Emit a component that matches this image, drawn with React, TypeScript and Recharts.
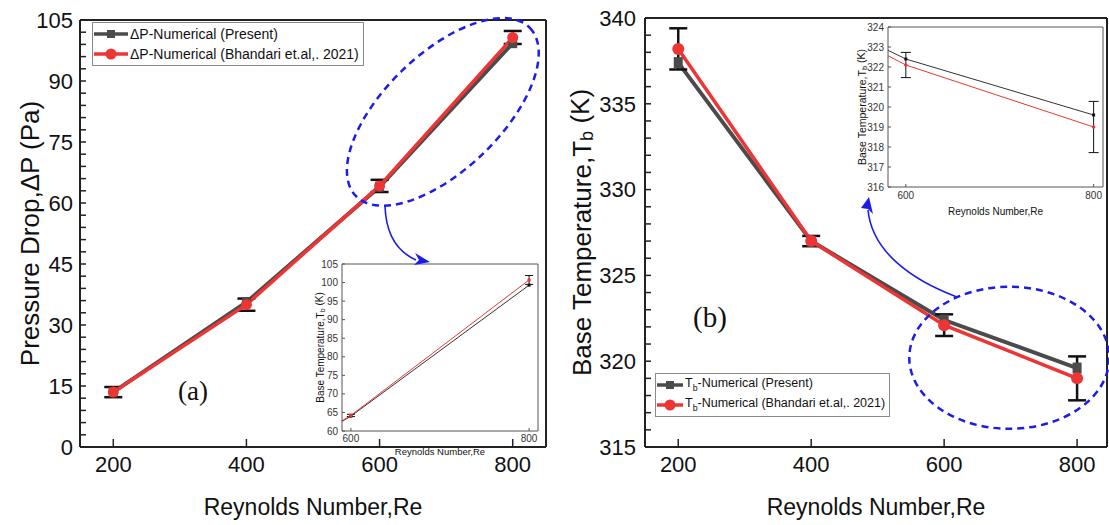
import React from 'react'
import {
  ComposedChart,
  Line,
  XAxis,
  YAxis,
  ErrorBar,
  ReferenceLine,
  ReferenceDot,
  Legend,
  CartesianGrid,
} from 'recharts'

const FONT = '"Liberation Sans", Arial, Helvetica, sans-serif'
const SERIF = '"Liberation Serif", "Times New Roman", serif'
const GRAY = '#4b4b4b'
const RED = '#ee3535'
const BLUE = '#1c1ce8'
const INK = '#111'

// Reynolds numbers
const reynolds = [200, 400, 600, 800]
const reTicks = [200, 400, 600, 800]
const insetReTicks = [600, 800]

// (a) pressure drop, Pa
const dpPresent = [13.5, 35.6, 64.0, 99.3]
const dpBhandari = [13.5, 35.0, 64.2, 100.7]
const dpError = [1.25, 1.5, 1.5, 1.6]
const dpInsetError = [0, 0, 0.3, 1.2]
const dpTicks = [0, 15, 30, 45, 60, 75, 90, 105]
const dpMinorTicks = [3, 6, 9, 12, 18, 21, 24, 27, 33, 36, 39, 42, 48, 51, 54, 57, 63, 66, 69, 72, 78, 81, 84, 87, 93, 96, 99, 102]
const dpInsetTicks = [60, 65, 70, 75, 80, 85, 90, 95, 100, 105]

// (b) base temperature, K
const tbPresent = [337.4, 327.0, 322.4, 319.6]
const tbBhandari = [338.2, 327.0, 322.1, 319.0]
const tbError = [1.2, 0.3, 0.63, 1.28]
const tbTicks = [315, 320, 325, 330, 335, 340]
const tbMinorTicks = [316, 317, 318, 319, 321, 322, 323, 324, 326, 327, 328, 329, 331, 332, 333, 334, 336, 337, 338, 339]
const tbInsetTicks = [316, 317, 318, 319, 320, 321, 322, 323, 324]

const dpData = reynolds.map((re, i) => ({
  re,
  present: dpPresent[i],
  bhandari: dpBhandari[i],
  err: dpError[i],
  insetErr: dpInsetError[i],
}))

const tbData = reynolds.map((re, i) => ({
  re,
  present: tbPresent[i],
  bhandari: tbBhandari[i],
  err: tbError[i],
}))

function squareDot(w: number, h: number, color: string) {
  return (p: any) => {
    if (p.cx == null || p.cy == null) return <g key={`sq-${p.index}`} />
    return <rect key={`sq-${p.index}`} x={p.cx - w / 2} y={p.cy - h / 2} width={w} height={h} fill={color} />
  }
}

function majorTick(majors: number[], fontSize: number, fill = INK) {
  return (p: any) => {
    const v = p.payload.value
    if (!majors.includes(v)) return <g />
    return (
      <text x={p.x} y={p.y} dy="0.355em" textAnchor="end" fontSize={fontSize} fontFamily={FONT} fill={fill}>
        {v}
      </text>
    )
  }
}

function YTitle({ viewBox, dx, fontSize, children }: any) {
  const cx = viewBox.x + dx
  const cy = viewBox.y + viewBox.height / 2
  return (
    <text
      x={cx}
      y={cy}
      transform={`rotate(-90 ${cx} ${cy})`}
      textAnchor="middle"
      dominantBaseline="central"
      fontSize={fontSize}
      fontFamily={FONT}
      fill={INK}
    >
      {children}
    </text>
  )
}

function XTitle({ viewBox, dy, fontSize, children }: any) {
  return (
    <text
      x={viewBox.x + viewBox.width / 2}
      y={viewBox.y + dy}
      textAnchor="middle"
      fontSize={fontSize}
      fontFamily={FONT}
      fill={INK}
    >
      {children}
    </text>
  )
}

const TbText = ({ tail }: { tail: string }) => (
  <>
    <tspan>T</tspan>
    <tspan fontSize="70%" dy="0.3em">b</tspan>
    <tspan dy="-0.3em">{tail}</tspan>
  </>
)

function LegendBox({ rows, fontSize, rowHeight, iconWidth }: any) {
  return (
    <div
      style={{
        border: '1px solid #8a8a8a',
        background: '#fff',
        padding: '1px 4px 1px 1px',
        fontFamily: FONT,
        fontSize,
        color: INK,
        lineHeight: 1,
      }}
    >
      {rows.map((r: any) => (
        <div key={r.key} style={{ display: 'flex', alignItems: 'center', height: rowHeight, whiteSpace: 'nowrap' }}>
          <svg width={iconWidth} height={12} style={{ marginRight: 2, flex: 'none' }}>
            <line x1={0} y1={6} x2={iconWidth} y2={6} stroke={r.color} strokeWidth={3.5} />
            {r.shape === 'square' ? (
              <rect x={iconWidth / 2 - 4} y={2} width={8} height={8} fill={r.color} />
            ) : (
              <circle cx={iconWidth / 2} cy={6} r={5.5} fill={r.color} />
            )}
          </svg>
          <span>{r.label}</span>
        </div>
      ))}
    </div>
  )
}

const ellipseShape = (rx: number, ry: number, angle: number) => (p: any) => (
  <ellipse
    cx={p.cx}
    cy={p.cy}
    rx={rx}
    ry={ry}
    transform={`rotate(${angle} ${p.cx} ${p.cy})`}
    fill="none"
    stroke={BLUE}
    strokeWidth={2.5}
    strokeDasharray="7 5"
  />
)

const axisLine = { stroke: '#222', strokeWidth: 2 }
const tickLine = { stroke: '#222', strokeWidth: 1.5 }

function PanelA() {
  return (
    <div style={{ position: 'absolute', left: 0, top: 0 }}>
      <ComposedChart width={560} height={525} data={dpData} margin={{ top: 20, right: 14, bottom: 0, left: 0 }}>
        <XAxis
          dataKey="re"
          type="number"
          domain={[150, 850]}
          ticks={reTicks}
          interval={0}
          height={78}
          axisLine={axisLine}
          tickLine={tickLine}
          tickSize={-8}
          tickMargin={17}
          tick={{ fill: INK, fontSize: 22, fontFamily: FONT }}
          label={<XTitle dy={68} fontSize={23}>Reynolds Number,Re</XTitle>}
        />
        <YAxis
          type="number"
          domain={[0, 105]}
          ticks={[...dpTicks, ...dpMinorTicks].sort((a, b) => a - b)}
          interval={0}
          width={80}
          axisLine={axisLine}
          tickLine={tickLine}
          tickSize={-6}
          tickMargin={13}
          tick={majorTick(dpTicks, 22)}
          label={<YTitle dx={30} fontSize={26}>Pressure Drop,ΔP (Pa)</YTitle>}
        />
        <ReferenceLine y={105} stroke="#222" strokeWidth={2} />
        <ReferenceLine x={850} stroke="#222" strokeWidth={2} />
        <Line
          dataKey="present"
          stroke={GRAY}
          strokeWidth={4}
          dot={squareDot(9, 10, GRAY)}
          isAnimationActive={false}
        />
        <Line
          dataKey="bhandari"
          stroke={RED}
          strokeWidth={3.5}
          dot={{ r: 5.5, fill: RED, stroke: RED, strokeWidth: 0 }}
          isAnimationActive={false}
        >
          <ErrorBar dataKey="err" direction="y" width={9} stroke={INK} strokeWidth={2.5} />
        </Line>
        <ReferenceDot x={695} y={82.4} r={1} shape={ellipseShape(121, 58, -44)} />
        <Legend
          layout="horizontal"
          verticalAlign="middle"
          align="center"
          wrapperStyle={{ left: 92, top: 22, width: 'auto' }}
          content={() => (
            <LegendBox
              fontSize={14}
              rowHeight={20}
              iconWidth={34}
              rows={[
                { key: 'p', label: 'ΔP-Numerical (Present)', color: GRAY, shape: 'square' },
                { key: 'b', label: 'ΔP-Numerical (Bhandari et.al,. 2021)', color: RED, shape: 'circle' },
              ]}
            />
          )}
        />
      </ComposedChart>
    </div>
  )
}

function InsetA() {
  return (
    <div style={{ position: 'absolute', left: 300, top: 256 }}>
      <ComposedChart width={244} height={205} data={dpData} margin={{ top: 8, right: 6, bottom: 0, left: 0 }}>
        <CartesianGrid horizontal={false} vertical={false} fill="#fff" />
        <XAxis
          dataKey="re"
          type="number"
          domain={[590, 810]}
          allowDataOverflow
          ticks={insetReTicks}
          interval={0}
          height={30}
          axisLine={{ stroke: '#555', strokeWidth: 1 }}
          tickLine={{ stroke: '#555' }}
          tickSize={-3}
          tickMargin={6.5}
          tick={{ fill: '#333', fontSize: 10, fontFamily: FONT }}
          label={<XTitle dy={24} fontSize={9.5}>Reynolds Number,Re</XTitle>}
        />
        <YAxis
          type="number"
          domain={[60, 105]}
          allowDataOverflow
          ticks={dpInsetTicks}
          interval={0}
          width={42}
          axisLine={{ stroke: '#555', strokeWidth: 1 }}
          tickLine={{ stroke: '#555' }}
          tickSize={-3}
          tickMargin={7}
          tick={majorTick(dpInsetTicks, 10, '#333')}
          label={
            <YTitle dx={20} fontSize={10}>
              Base Temperature,<TbText tail=" (K)" />
            </YTitle>
          }
        />
        <ReferenceLine y={105} stroke="#555" strokeWidth={1} />
        <ReferenceLine x={810} stroke="#555" strokeWidth={1} />
        <Line
          dataKey="present"
          stroke="#333"
          strokeWidth={1}
          dot={squareDot(3, 3, '#111')}
          isAnimationActive={false}
        />
        <Line
          dataKey="bhandari"
          stroke={RED}
          strokeWidth={1}
          dot={{ r: 1.8, fill: RED, stroke: RED, strokeWidth: 0 }}
          isAnimationActive={false}
        >
          <ErrorBar dataKey="insetErr" direction="y" width={4} stroke={INK} strokeWidth={1} />
        </Line>
      </ComposedChart>
    </div>
  )
}

function PanelB() {
  return (
    <div style={{ position: 'absolute', left: 550, top: 0 }}>
      <ComposedChart width={559} height={525} data={tbData} margin={{ top: 18, right: 2, bottom: 0, left: 0 }}>
        <XAxis
          dataKey="re"
          type="number"
          domain={[150, 845]}
          ticks={reTicks}
          interval={0}
          height={78}
          axisLine={axisLine}
          tickLine={tickLine}
          tickSize={-8}
          tickMargin={17}
          tick={{ fill: INK, fontSize: 22, fontFamily: FONT }}
          label={<XTitle dy={68} fontSize={23}>Reynolds Number,Re</XTitle>}
        />
        <YAxis
          type="number"
          domain={[315, 340]}
          ticks={[...tbTicks, ...tbMinorTicks].sort((a, b) => a - b)}
          interval={0}
          width={95}
          axisLine={axisLine}
          tickLine={tickLine}
          tickSize={-6}
          tickMargin={15}
          tick={majorTick(tbTicks, 22)}
          label={
            <YTitle dx={32} fontSize={26}>
              Base Temperature,<TbText tail=" (K)" />
            </YTitle>
          }
        />
        <ReferenceLine y={340} stroke="#222" strokeWidth={2} />
        <ReferenceLine x={845} stroke="#222" strokeWidth={2} />
        <Line
          dataKey="present"
          stroke={GRAY}
          strokeWidth={4}
          dot={squareDot(9, 11, GRAY)}
          isAnimationActive={false}
        />
        <Line
          dataKey="bhandari"
          stroke={RED}
          strokeWidth={3.5}
          dot={{ r: 6, fill: RED, stroke: RED, strokeWidth: 0 }}
          isAnimationActive={false}
        >
          <ErrorBar dataKey="err" direction="y" width={9} stroke={INK} strokeWidth={2.5} />
        </Line>
        <ReferenceDot x={698} y={320.2} r={1} shape={ellipseShape(100, 71, 0)} />
        <Legend
          layout="horizontal"
          verticalAlign="middle"
          align="center"
          wrapperStyle={{ left: 105, top: 373, width: 'auto' }}
          content={() => (
            <LegendBox
              fontSize={12.5}
              rowHeight={20}
              iconWidth={26}
              rows={[
                {
                  key: 'p',
                  label: (
                    <>
                      T<sub style={{ fontSize: '70%' }}>b</sub>-Numerical (Present)
                    </>
                  ),
                  color: GRAY,
                  shape: 'square',
                },
                {
                  key: 'b',
                  label: (
                    <>
                      T<sub style={{ fontSize: '70%' }}>b</sub>-Numerical (Bhandari et.al,. 2021)
                    </>
                  ),
                  color: RED,
                  shape: 'circle',
                },
              ]}
            />
          )}
        />
      </ComposedChart>
    </div>
  )
}

function InsetB() {
  return (
    <div style={{ position: 'absolute', left: 848, top: 20 }}>
      <ComposedChart width={258} height={200} data={tbData} margin={{ top: 7, right: 3, bottom: 0, left: 0 }}>
        <CartesianGrid horizontal={false} vertical={false} fill="#fff" />
        <XAxis
          dataKey="re"
          type="number"
          domain={[581, 810]}
          allowDataOverflow
          ticks={insetReTicks}
          interval={0}
          height={33}
          axisLine={{ stroke: '#555', strokeWidth: 1 }}
          tickLine={{ stroke: '#555' }}
          tickSize={-3}
          tickMargin={7.5}
          tick={{ fill: '#333', fontSize: 10, fontFamily: FONT }}
          label={<XTitle dy={28} fontSize={10}>Reynolds Number,Re</XTitle>}
        />
        <YAxis
          type="number"
          domain={[316, 324]}
          allowDataOverflow
          ticks={tbInsetTicks}
          interval={0}
          width={40}
          axisLine={{ stroke: '#555', strokeWidth: 1 }}
          tickLine={{ stroke: '#555' }}
          tickSize={-3}
          tickMargin={7}
          tick={majorTick(tbInsetTicks, 10, '#333')}
          label={
            <YTitle dx={14} fontSize={10.5}>
              Base Temperature,<TbText tail=" (K)" />
            </YTitle>
          }
        />
        <ReferenceLine y={324} stroke="#555" strokeWidth={1} />
        <ReferenceLine x={810} stroke="#555" strokeWidth={1} />
        <Line
          dataKey="present"
          stroke="#333"
          strokeWidth={1}
          dot={squareDot(3, 3, '#111')}
          isAnimationActive={false}
        />
        <Line
          dataKey="bhandari"
          stroke={RED}
          strokeWidth={1}
          dot={{ r: 1.8, fill: RED, stroke: RED, strokeWidth: 0 }}
          isAnimationActive={false}
        >
          <ErrorBar dataKey="err" direction="y" width={5} stroke={INK} strokeWidth={1} />
        </Line>
      </ComposedChart>
    </div>
  )
}

export default function App() {
  return (
    <div style={{ position: 'absolute', left: 0, top: 0, width: 1109, height: 525, background: '#fff', overflow: 'hidden' }}>
      <PanelA />
      <InsetA />
      <PanelB />
      <InsetB />
      {/* call-out arrows and panel letters */}
      <svg width={1109} height={525} style={{ position: 'absolute', left: 0, top: 0, pointerEvents: 'none' }}>
        <path d="M385,206 C386,236 398,252 416,260" fill="none" stroke={BLUE} strokeWidth={1.6} />
        <polygon points="415,253 430,262 414,265 419,260" fill={BLUE} />
        <path d="M957,297 C912,280 872,252 868,210" fill="none" stroke={BLUE} strokeWidth={1.6} />
        <polygon points="869,197 873,214 868,209 861,208" fill={BLUE} />
        <text x={193} y={400} textAnchor="middle" fontSize={27} fontFamily={SERIF} fill={INK}>
          (a)
        </text>
        <text x={710} y={327} textAnchor="middle" fontSize={29} fontFamily={SERIF} fill={INK}>
          (b)
        </text>
      </svg>
    </div>
  )
}
